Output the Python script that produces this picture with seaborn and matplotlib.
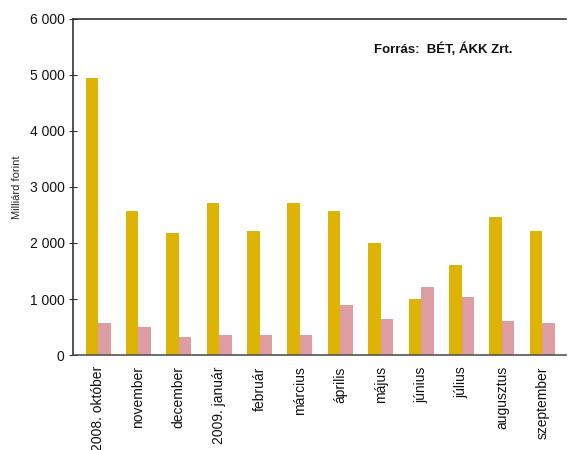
import pandas as pd
import numpy as np
import seaborn as sns
import matplotlib.pyplot as plt
from matplotlib.ticker import FuncFormatter

# Adatok (milliárd forint)
honapok = ['2008. október', 'november', 'december', '2009. január', 'február',
           'március', 'április', 'május', 'június', 'július', 'augusztus', 'szeptember']
sorozat_1 = [4950, 2570, 2180, 2710, 2210, 2710, 2570, 2000, 1000, 1610, 2460, 2210]
sorozat_2 = [570, 500, 320, 360, 360, 360, 890, 640, 1210, 1040, 610, 570]
sorozat_nevek = ['A', 'B']
szinek = ['#DDB306', '#DE9DA3']

df = pd.DataFrame({
    'honap': honapok * 2,
    'ertek': sorozat_1 + sorozat_2,
    'sorozat': [sorozat_nevek[0]] * len(honapok) + [sorozat_nevek[1]] * len(honapok),
})

sns.set_style('white')
plt.rcParams['font.family'] = ['Liberation Sans', 'DejaVu Sans']
plt.rcParams['text.color'] = '#111111'
plt.rcParams['xtick.color'] = '#111111'
plt.rcParams['ytick.color'] = '#111111'

fig = plt.figure(figsize=(5.68, 4.5), dpi=100)
ax = fig.add_axes([0.1285, 0.211, 0.8675, 0.747])

sns.barplot(data=df, x='honap', y='ertek', hue='sorozat', palette=szinek,
            width=0.62, saturation=1, linewidth=0, ax=ax, legend=False)

ax.set_xlim(-0.62, 11.58)
ax.set_ylim(0, 6000)
ax.set_yticks(range(0, 6001, 1000))
ax.yaxis.set_major_formatter(FuncFormatter(lambda v, p: f'{int(v):,}'.replace(',', ' ')))
ax.tick_params(axis='y', direction='inout', length=6, width=0.8, color='#333333',
               labelsize=10, pad=3, left=True)
ax.tick_params(axis='x', length=0, labelsize=10, pad=8)
ax.set_xticks(range(len(honapok)))
ax.set_xticklabels(honapok, rotation=90, va='top')

ax.set_xlabel('')
ax.set_ylabel('Milliárd forint', fontsize=8)
ax.yaxis.set_label_coords(-0.104, 0.5)

ax.spines['right'].set_visible(False)
ax.spines['left'].set_color('#333333')
ax.spines['top'].set_color('#333333')
ax.spines['bottom'].set_color('#555555')
for s in ['left', 'top', 'bottom']:
    ax.spines[s].set_linewidth(1.2)

ax.text(0.61, 0.91, 'Forrás:  BÉT, ÁKK Zrt.', transform=ax.transAxes,
        fontsize=9.5, fontweight='bold', ha='left', va='center')

plt.savefig('out.png', dpi=100)
